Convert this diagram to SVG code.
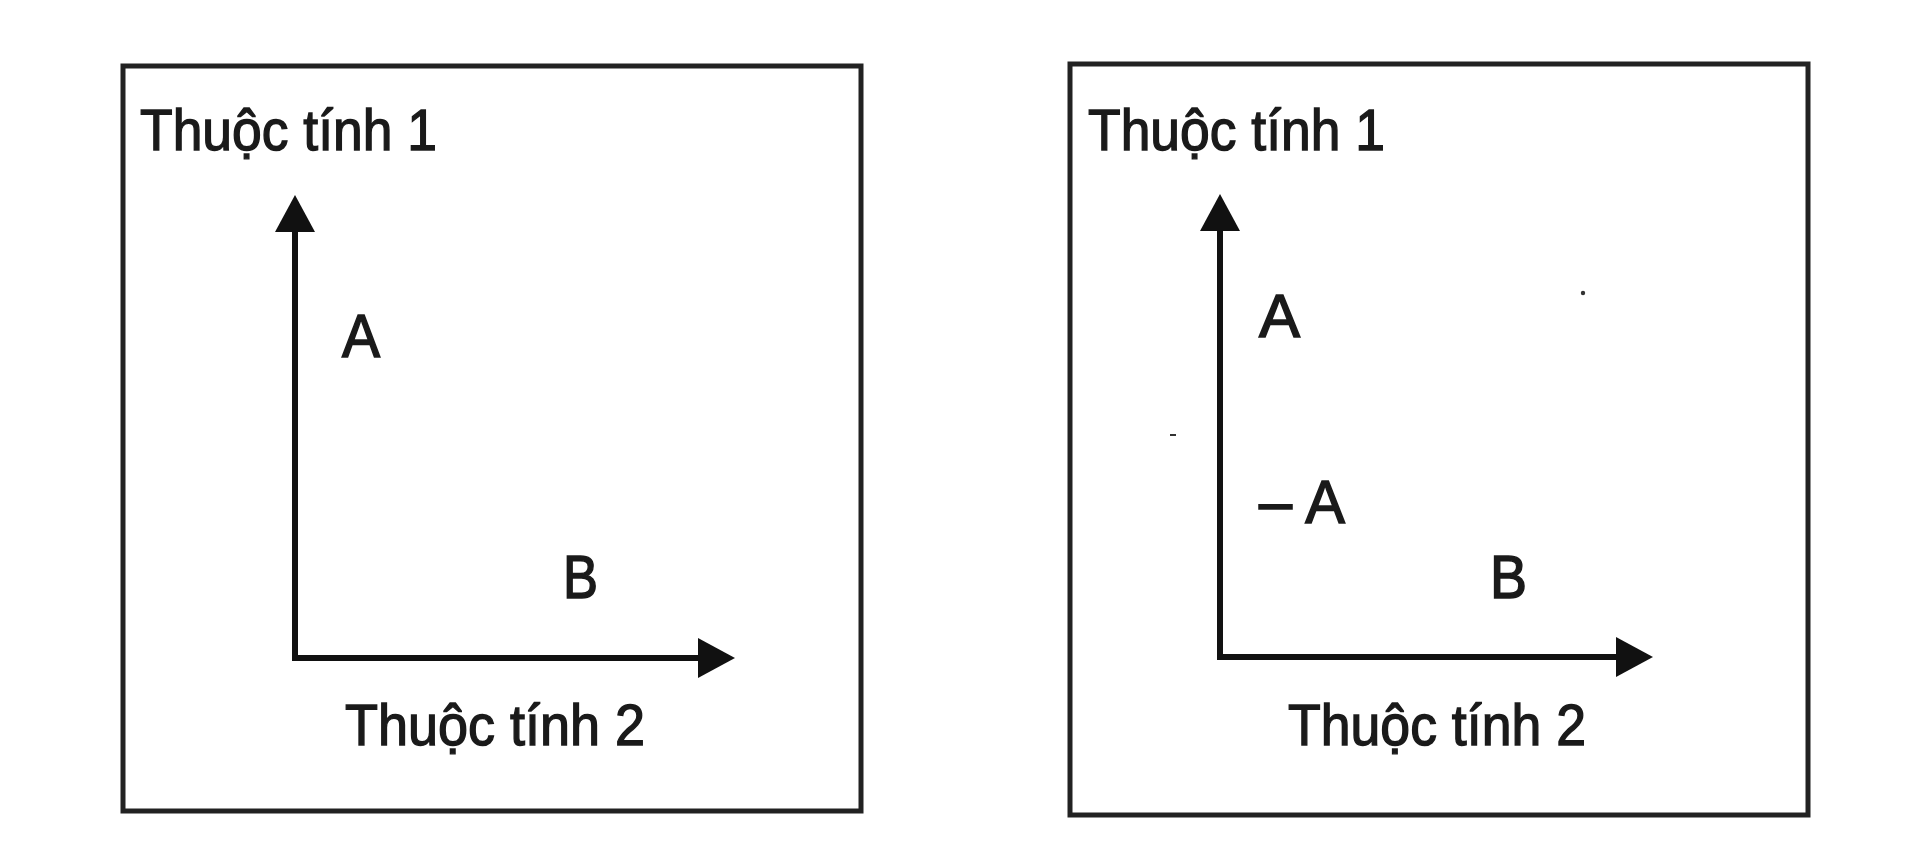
<svg xmlns="http://www.w3.org/2000/svg" width="1922" height="862" viewBox="0 0 1922 862">
  <style>
    .frame { fill: none; stroke: #222; stroke-width: 5; }
    .axis { fill: none; stroke: #111; stroke-width: 6; stroke-linejoin: miter; stroke-linecap: butt; }
    .title { font-family: "Liberation Sans", Arial, sans-serif; font-size: 58px; fill: #1a1a1a; stroke: #1a1a1a; stroke-width: 1.4; }
    .pt { font-family: "Liberation Sans", Arial, sans-serif; font-size: 62px; fill: #1a1a1a; stroke: #1a1a1a; stroke-width: 1.6; }
    .speck { fill: #333; }
  </style>
  <defs>
    <marker id="arrow" markerUnits="userSpaceOnUse" markerWidth="40" markerHeight="42" refX="2" refY="20" orient="auto-start-reverse" viewBox="0 0 40 40">
      <path d="M0,0 L37,20 L0,40 Z" fill="#111"/>
    </marker>
  </defs>
  <rect x="0" y="0" width="1922" height="862" fill="#ffffff"/>

  <g id="panel-left">
    <rect class="frame" x="123" y="66" width="738" height="745"/>
    <text class="title" x="140" y="150" textLength="297" lengthAdjust="spacingAndGlyphs">Thuộc tính 1</text>
    <text class="title" x="345" y="745" textLength="300" lengthAdjust="spacingAndGlyphs">Thuộc tính 2</text>
    <text class="pt" x="342" y="357" textLength="38" lengthAdjust="spacingAndGlyphs">A</text>
    <text class="pt" x="563" y="598" textLength="35" lengthAdjust="spacingAndGlyphs">B</text>
  </g>

  <g id="panel-right">
    <rect class="frame" x="1070" y="64" width="738" height="751"/>
    <text class="title" x="1088" y="150" textLength="297" lengthAdjust="spacingAndGlyphs">Thuộc tính 1</text>
    <text class="title" x="1288" y="745" textLength="298" lengthAdjust="spacingAndGlyphs">Thuộc tính 2</text>
    <text class="pt" x="1259" y="337" textLength="41" lengthAdjust="spacingAndGlyphs">A</text>
    <text class="pt" x="1259" y="523" textLength="86" lengthAdjust="spacingAndGlyphs">– A</text>
    <text class="pt" x="1490" y="598" textLength="37" lengthAdjust="spacingAndGlyphs">B</text>
    <circle class="speck" cx="1583" cy="293" r="2.2"/>
    <rect class="speck" x="1170" y="434" width="6" height="2"/>
  </g>

  <g id="connectors">
    <polyline class="axis" points="295,230 295,658 700,658" marker-start="url(#arrow)" marker-end="url(#arrow)"/>
    <polyline class="axis" points="1220,229 1220,657 1618,657" marker-start="url(#arrow)" marker-end="url(#arrow)"/>
  </g>
</svg>
